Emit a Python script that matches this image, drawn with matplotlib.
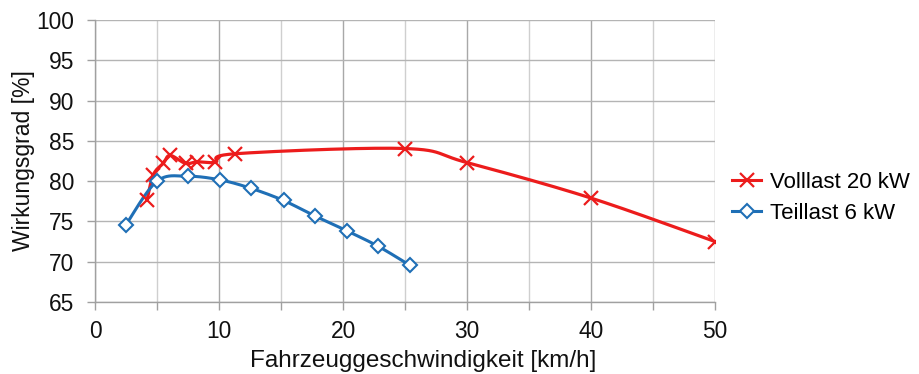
import numpy as np
import matplotlib
matplotlib.use("Agg")
import matplotlib.pyplot as plt
from matplotlib.ticker import MultipleLocator

plt.rcParams['font.family'] = ['Liberation Sans', 'DejaVu Sans']

# Efficiency of the drive at full load and part load over vehicle speed
full_speed = [4.2, 4.7, 5.5, 6.05, 7.3, 8.2, 9.7, 11.3, 25.0, 30.0, 40.0, 50.0]
full_eff = [77.7, 80.8, 82.2, 83.2, 82.2, 82.4, 82.35, 83.4, 84.05, 82.3, 77.9, 72.5]
part_speed = [2.5, 5.0, 7.5, 10.1, 12.6, 15.2, 17.7, 20.3, 22.85, 25.4]
part_eff = [74.6, 80.0, 80.6, 80.15, 79.1, 77.6, 75.7, 73.85, 71.9, 69.55]

series_labels = ["Volllast 20 kW", "Teillast 6 kW"]
x_label = "Fahrzeuggeschwindigkeit [km/h]"
y_label = "Wirkungsgrad [%]"

RED = "#ec1c1c"
BLUE = "#1f6fb6"


def smooth(xs, ys, n=40):
    """Piecewise cubic Bezier through the points (spreadsheet-style smoothing)."""
    p = np.column_stack([xs, ys]).astype(float)
    out = []
    m = len(p)
    t = np.linspace(0, 1, n)[:, None]
    for i in range(m - 1):
        p0 = p[max(i - 1, 0)]
        p1 = p[i]
        p2 = p[i + 1]
        p3 = p[min(i + 2, m - 1)]
        c1 = p1 + (p2 - p0) / 6.0
        c2 = p2 - (p3 - p1) / 6.0
        seg = ((1 - t) ** 3) * p1 + 3 * ((1 - t) ** 2) * t * c1 + 3 * (1 - t) * t ** 2 * c2 + t ** 3 * p2
        out.append(seg if i == 0 else seg[1:])
    seg = np.vstack(out)
    return seg[:, 0], seg[:, 1]


fig = plt.figure(figsize=(9.2, 3.74), dpi=100)
ax = fig.add_axes([0.1033, 0.1925, 0.6739, 0.754])

# curves
fx, fy = smooth(full_speed, full_eff)
px, py = smooth(part_speed, part_eff)
ax.plot(fx, fy, color=RED, lw=2.3, zorder=3, solid_capstyle='round')
ax.plot(px, py, color=BLUE, lw=2.2, zorder=3, solid_capstyle='round')
ax.plot(full_speed, full_eff, ls='none', marker='x', ms=10, mew=1.6,
        color=RED, zorder=4)
ax.plot(part_speed, part_eff, ls='none', marker='D', ms=7, mew=1.5,
        mec=BLUE, mfc='white', zorder=4)

# legend proxies
h1, = ax.plot([], [], color=RED, lw=2.2, marker='x', ms=10, mew=1.6)
h2, = ax.plot([], [], color=BLUE, lw=2.2, marker='D', ms=7, mew=1.5,
              mec=BLUE, mfc='white')
leg = fig.legend([h1, h2], series_labels, loc='center left',
                 bbox_to_anchor=(0.774, 0.47), frameon=False, fontsize=16,
                 handlelength=1.3, handletextpad=0.4, labelspacing=0.45)

ax.set_xlim(0, 50)
ax.set_ylim(65, 100)
ax.xaxis.set_major_locator(MultipleLocator(10))
ax.xaxis.set_minor_locator(MultipleLocator(5))
ax.yaxis.set_major_locator(MultipleLocator(5))

ax.grid(True, which='major', axis='x', color='#a8a8a8', lw=1.0)
ax.grid(True, which='minor', axis='x', color='#cfcfcf', lw=1.0)
ax.grid(True, which='major', axis='y', color='#b4b4b4', lw=1.0)
ax.set_axisbelow(True)

for side in ('top', 'right'):
    ax.spines[side].set_visible(False)
for side in ('left', 'bottom'):
    ax.spines[side].set_color('#a0a0a0')
    ax.spines[side].set_linewidth(1.0)

ax.tick_params(which='both', direction='out', length=6, width=1.0,
               color='#a0a0a0', labelsize=16.4, labelcolor='#111111')
ax.tick_params(axis='x', pad=7)
ax.tick_params(axis='y', pad=9)

ax.set_xlabel(x_label, fontsize=17.5, color='#111111')
ax.xaxis.set_label_coords(0.529, -0.170)
ax.set_ylabel(y_label, fontsize=16.5, color='#111111')
ax.yaxis.set_label_coords(-0.097, 0.5)

fig.savefig("out.png", dpi=100, facecolor='white')
